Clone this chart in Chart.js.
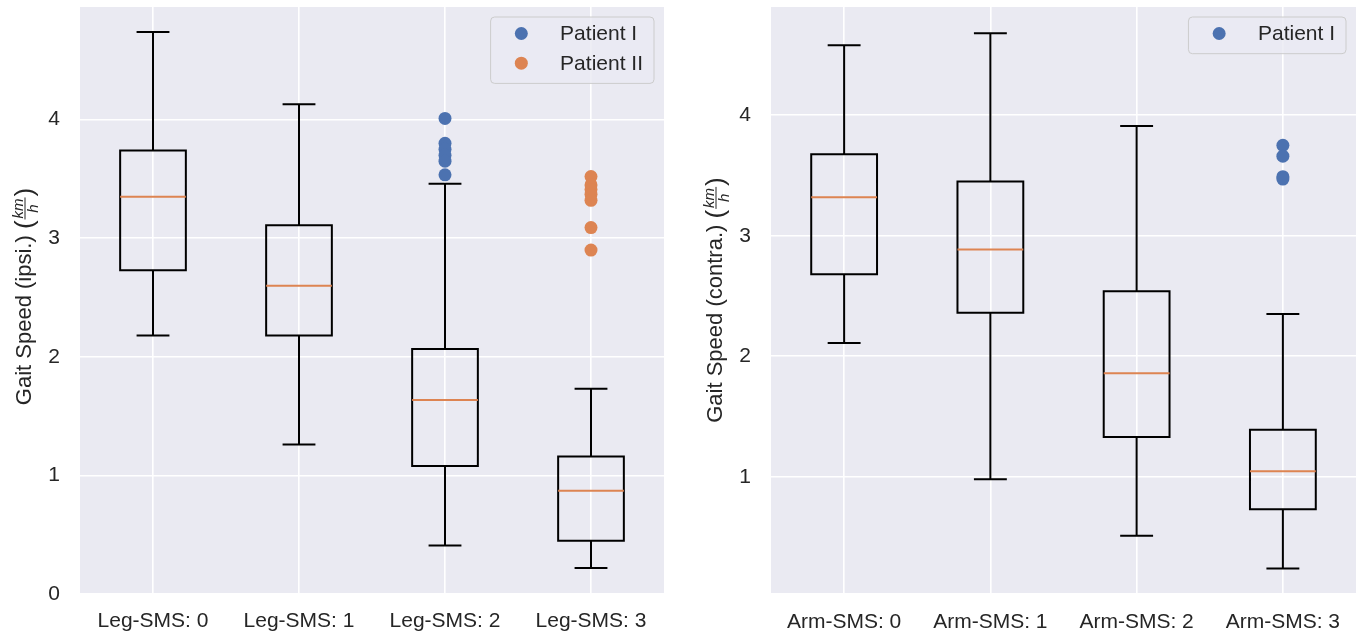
<!DOCTYPE html>
<html><head><meta charset="utf-8">
<script src="https://cdn.jsdelivr.net/npm/chart.js@4.4.0/dist/chart.umd.min.js"></script>
<style>
html,body{margin:0;padding:0;background:#fff;width:1363px;height:637px;overflow:hidden}
canvas{position:absolute;top:0}
#left{left:0}
#right{left:680px}
</style></head><body>
<canvas id="left" width="680" height="637"></canvas>
<canvas id="right" width="683" height="637"></canvas>
<script>
// ---------- data ----------
const legCategories = ['Leg-SMS: 0', 'Leg-SMS: 1', 'Leg-SMS: 2', 'Leg-SMS: 3'];
const legLow  = [2.18, 1.26, 0.41, 0.22];
const legQ1   = [2.73, 2.18, 1.08, 0.45];
const legMed  = [3.35, 2.60, 1.635, 0.87];
const legQ3   = [3.74, 3.11, 2.065, 1.16];
const legHigh = [4.74, 4.13, 3.46, 1.73];
const legPatientI  = [null, null, [4.01, 3.80, 3.75, 3.70, 3.65, 3.535], null];
const legPatientII = [null, null, null, [3.52, 3.45, 3.41, 3.37, 3.32, 3.09, 2.90]];
const legYTicks = [0, 1, 2, 3, 4];

const armCategories = ['Arm-SMS: 0', 'Arm-SMS: 1', 'Arm-SMS: 2', 'Arm-SMS: 3'];
const armLow  = [2.11, 0.98, 0.51, 0.24];
const armQ1   = [2.68, 2.36, 1.33, 0.73];
const armMed  = [3.32, 2.885, 1.86, 1.047];
const armQ3   = [3.675, 3.45, 2.54, 1.39];
const armHigh = [4.58, 4.68, 3.91, 2.35];
const armPatientI = [null, null, null, [3.75, 3.66, 3.49, 3.47]];
const armYTicks = [1, 2, 3, 4];

// ---------- helpers ----------
const BOX_HALF = 0.225, CAP_HALF = 0.1125;
const TEXT = '#262626', BLUE = '#4c72b0', ORANGE = '#dd8452', BG = '#eaeaf2';
const FONT = "'Liberation Sans', Arial, Helvetica, sans-serif";
const FS = 21;

function boxOutline(lo, q1, q3, hi) {
  const pts = [];
  q1.forEach((_, i) => {
    const p = i + 1;
    pts.push({x: p, y: q1[i]}, {x: p + BOX_HALF, y: q1[i]}, {x: p + BOX_HALF, y: q3[i]},
             {x: p - BOX_HALF, y: q3[i]}, {x: p - BOX_HALF, y: q1[i]}, {x: p, y: q1[i]}, {x: p, y: null});
    pts.push({x: p, y: q1[i]}, {x: p, y: lo[i]}, {x: p, y: null});
    pts.push({x: p - CAP_HALF, y: lo[i]}, {x: p + CAP_HALF, y: lo[i]}, {x: p, y: null});
    pts.push({x: p, y: q3[i]}, {x: p, y: hi[i]}, {x: p, y: null});
    pts.push({x: p - CAP_HALF, y: hi[i]}, {x: p + CAP_HALF, y: hi[i]}, {x: p, y: null});
  });
  return pts;
}
function medianLines(med) {
  const pts = [];
  med.forEach((m, i) => {
    const p = i + 1;
    pts.push({x: p - BOX_HALF, y: m}, {x: p + BOX_HALF, y: m}, {x: p, y: null});
  });
  return pts;
}
function fliers(groups) {
  const pts = [];
  groups.forEach((g, i) => { if (g) g.forEach(v => pts.push({x: i + 1, y: v})); });
  return pts;
}

const bgPlugin = {
  id: 'bg',
  beforeDraw(chart) {
    const a = chart.chartArea, c = chart.ctx;
    c.save(); c.fillStyle = BG; c.fillRect(a.left, a.top, a.right - a.left, a.bottom - a.top); c.restore();
  }
};

const legendPlugin = {
  id: 'boxLegend',
  afterDraw(chart) {
    const items = chart.data.datasets.filter(d => d.label);
    const c = chart.ctx, a = chart.chartArea;
    c.save();
    c.font = FS + 'px ' + FONT;
    const tw = Math.max(...items.map(d => c.measureText(d.label).width));
    const w = 69.5 + tw + 11, rowH = 29.7;
    const x0 = a.right - 10 - w, y0 = a.top + 10;
    c.beginPath();
    c.roundRect(x0, y0, w, 7 + rowH * items.length, 4);
    c.fillStyle = 'rgba(234,234,242,0.8)'; c.fill();
    c.strokeStyle = '#cccccc'; c.lineWidth = 1; c.stroke();
    items.forEach((d, k) => {
      const cy = y0 + 16.5 + k * rowH;
      c.beginPath(); c.arc(x0 + 30.7, cy, 6.5, 0, Math.PI * 2);
      c.fillStyle = d.backgroundColor; c.fill();
      c.fillStyle = TEXT; c.textBaseline = 'middle'; c.textAlign = 'left';
      c.fillText(d.label, x0 + 69.5, cy + 1);
    });
    c.restore();
  }
};

function yTitlePlugin(text, cx, dy) {
  return {
    id: 'ytitle',
    afterDraw(chart) {
      const c = chart.ctx, a = chart.chartArea;
      const cy = (a.top + a.bottom) / 2 + dy;
      const TF = 22, PF = 26;
      c.save();
      c.translate(cx, cy);
      c.rotate(-Math.PI / 2);
      c.fillStyle = TEXT; c.strokeStyle = TEXT;
      const main = text + ' ';
      c.font = TF + 'px ' + FONT;
      const wMain = c.measureText(main).width;
      c.font = PF + 'px ' + FONT;
      const wL = c.measureText('(').width, wR = c.measureText(')').width;
      c.font = 'italic 15px ' + FONT;
      const wKm = c.measureText('km').width, wH = c.measureText('h').width;
      const wFrac = Math.max(wKm, wH) + 4;
      const W = wMain + wL + wFrac + wR;
      let x = -W / 2;
      const base = 7;
      c.textBaseline = 'alphabetic'; c.textAlign = 'left';
      c.font = TF + 'px ' + FONT; c.fillText(main, x, base); x += wMain;
      c.font = PF + 'px ' + FONT; c.fillText('(', x, base + 2); x += wL;
      const bar = base - 6;
      c.lineWidth = 1; c.beginPath(); c.moveTo(x + 1, bar); c.lineTo(x + wFrac - 1, bar); c.stroke();
      c.font = 'italic 15px ' + FONT;
      c.textAlign = 'center';
      c.fillText('km', x + wFrac / 2, bar - 2);
      c.textBaseline = 'top';
      c.fillText('h', x + wFrac / 2, bar + 1);
      x += wFrac;
      c.textAlign = 'left'; c.textBaseline = 'alphabetic';
      c.font = PF + 'px ' + FONT; c.fillText(')', x, base + 2);
      c.restore();
    }
  };
}

function makeChart(id, cats, lo, q1, med, q3, hi, outlierSets, yTicks, yMin, yMax, yAxisW, xAxisH, xPad, padRight, title, titleX, titleDy) {
  const datasets = [
    {type: 'line', data: boxOutline(lo, q1, q3, hi), borderColor: '#000', borderWidth: 2,
     pointRadius: 0, spanGaps: false, borderJoinStyle: 'miter', order: 3},
    {type: 'line', data: medianLines(med), borderColor: ORANGE, borderWidth: 2,
     pointRadius: 0, spanGaps: false, order: 2}
  ];
  outlierSets.forEach(s => datasets.push({
    type: 'scatter', label: s.label, data: fliers(s.values), backgroundColor: s.color,
    borderColor: s.color, pointRadius: 6.5, pointBorderWidth: 0, order: 1
  }));
  return new Chart(document.getElementById(id), {
    data: {datasets},
    options: {
      responsive: false, animation: false, events: [],
      layout: {padding: {top: 7, right: padRight, left: 0, bottom: 0}},
      plugins: {legend: {display: false}, tooltip: {enabled: false}},
      scales: {
        x: {
          type: 'linear', min: 0.5, max: 4.5,
          afterBuildTicks: s => { s.ticks = cats.map((c, i) => ({value: i + 1})); },
          afterFit: s => { s.height = xAxisH; s.paddingLeft = 0; s.paddingRight = 0; s.paddingTop = 0; s.paddingBottom = 0; },
          grid: {color: '#ffffff', lineWidth: 1.6, drawTicks: false},
          border: {display: false},
          ticks: {color: TEXT, font: {size: FS, family: FONT}, padding: xPad, maxRotation: 0,
                  callback: (v, idx) => cats[idx]}
        },
        y: {
          type: 'linear', min: yMin, max: yMax,
          afterBuildTicks: s => { s.ticks = yTicks.map(v => ({value: v})); },
          afterFit: s => { s.width = yAxisW; s.paddingTop = 0; s.paddingBottom = 0; s.paddingLeft = 0; s.paddingRight = 0; },
          grid: {color: '#ffffff', lineWidth: 1.6, drawTicks: false},
          border: {display: false},
          ticks: {color: TEXT, font: {size: FS, family: FONT}, padding: 20}
        }
      }
    },
    plugins: [bgPlugin, legendPlugin, yTitlePlugin(title, titleX, titleDy)]
  });
}

makeChart('left', legCategories, legLow, legQ1, legMed, legQ3, legHigh,
  [{label: 'Patient I', values: legPatientI, color: BLUE},
   {label: 'Patient II', values: legPatientII, color: ORANGE}],
  legYTicks, 0, 4.95, 80, 43, 15, 16, 'Gait Speed (ipsi.)', 24, -4);

makeChart('right', armCategories, armLow, armQ1, armMed, armQ3, armHigh,
  [{label: 'Patient I', values: armPatientI, color: BLUE}],
  armYTicks, 0.036, 4.8975, 91, 44, 17, 7, 'Gait Speed (contra.)', 35, 0);
</script>
</body></html>
